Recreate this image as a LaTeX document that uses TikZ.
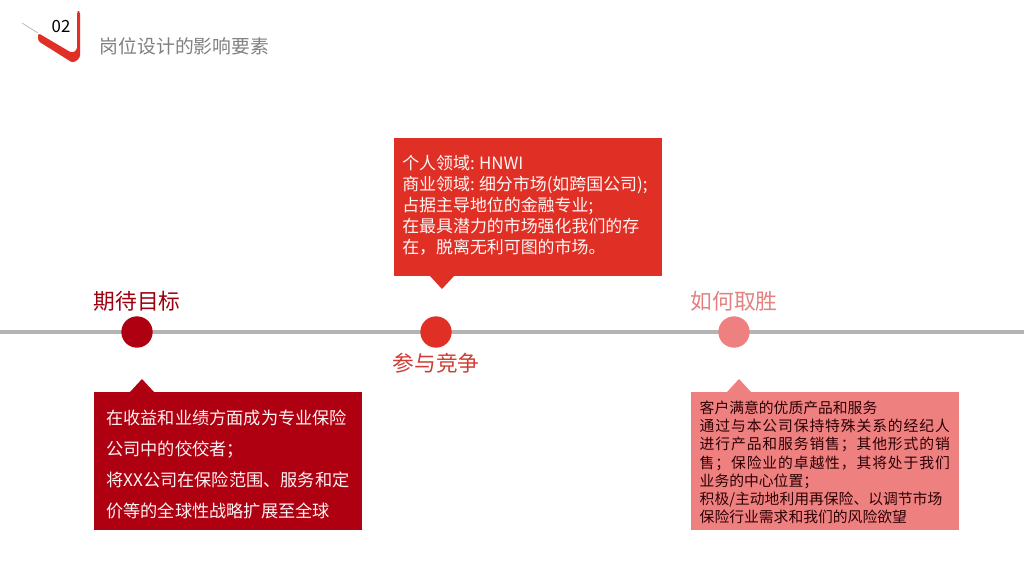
\documentclass[tikz,border=0pt]{standalone}
\usepackage{fontspec}
\usepackage{xcolor}
\setmainfont{Noto Sans CJK SC}
\definecolor{darkred}{HTML}{AE0010}
\definecolor{midred}{HTML}{E03026}
\definecolor{pinkred}{HTML}{EE8080}
\definecolor{barcolor}{HTML}{B4B4B4}
\newcommand{\wideline}[1]{{\addfontfeature{LetterSpace=6}#1}}
\tikzset{
  dot/.style={draw=none,shape=circle,minimum size=23.5pt,inner sep=0pt},
  head/.style={font=\fontsize{16.3}{20}\selectfont},
  textbox/.style={shape=rectangle,anchor=north west,align=left,minimum width=201pt,minimum height=103.5pt,inner ysep=0pt}
}

\begin{document}
\begin{tikzpicture}[x=0.75pt,y=-0.75pt]
\useasboundingbox (0,0) rectangle (1024,576);

\coordinate (barleft) at (0,332);
\coordinate (barright) at (1024,332);
\draw [barcolor,line width=3.6pt] (barleft) -- (barright);

\node (goaldot) at (137,332) [dot,fill=darkred] {};
\node (playdot) at (436,332) [dot,fill=midred] {};
\node (windot) at (734,332) [dot,fill=pinkred] {};

\node (goalhead) at (137,301) [head,text=darkred!90!black] {期待目标};
\node (playhead) at (436,363) [head,text=midred!85!gray] {参与竞争};
\node (winhead) at (734,301) [head,text=pinkred!90!gray] {如何取胜};

\node (playbox) at (394,138) [textbox,fill=midred,text=white!85!pink,inner xsep=6pt,text width=189pt,
  font=\fontsize{12.7}{15.7}\selectfont]
  {个人领域:\hspace{3.25pt}HNWI\\商业领域:\hspace{3.25pt}细分市场(如跨国公司);\\占据主导地位的金融专业;\\在最具潜力的市场强化我们的存\\在，脱离无利可图的市场。\rule[-3.8pt]{0pt}{3.8pt}};
\node (goalbox) at (94,392) [textbox,fill=darkred,text=white!80!pink,inner xsep=9pt,text width=183pt,
  font=\fontsize{12.9}{23.2}\selectfont]
  {\rule{0pt}{15.85pt}在收益和业绩方面成为专业保险\\公司中的佼佼者；\\将XX公司在保险范围、服务和定\\价等的全球性战略扩展至全球};
\node (winbox) at (691,392) [textbox,fill=pinkred,text=black!75!darkred,inner xsep=6.35pt,text width=188.3pt,
  font=\fontsize{11.1}{13.7}\selectfont]
  {\rule{0pt}{11.3pt}客户满意的优质产品和服务\\\wideline{通过与本公司保持特殊关系的经纪人}\\\wideline{进行产品和服务销售；其他形式的销}\\\wideline{售；保险业的卓越性，其将处于我们}\\业务的中心位置；\\积极/主动地利用再保险、以调节市场\\保险行业需求和我们的风险欲望};

% pointers of the boxes
\fill [midred] (430,276) -- (442,289) -- (454,276) -- cycle;
\fill [darkred] (130,392) -- (142,379) -- (154,392) -- cycle;
\fill [pinkred] (727,392) -- (739,379) -- (751,392) -- cycle;

% corner mark
\draw [gray!60,line width=0.5pt] (22,23) -- (38,33);
\fill [midred,rounded corners=2pt] (38,33) -- (72,53) -- (77,50) -- (77,11) -- (80,11) -- (80,58) -- (73,63) -- (38,41) -- cycle;
\node (marknum) at (61,27) [font=\fontsize{12.6}{14}\selectfont] {02};
\node (title) at (184.5,46) [text=gray,font=\fontsize{14.1}{17}\selectfont] {岗位设计的影响要素};
\end{tikzpicture}
\end{document}
